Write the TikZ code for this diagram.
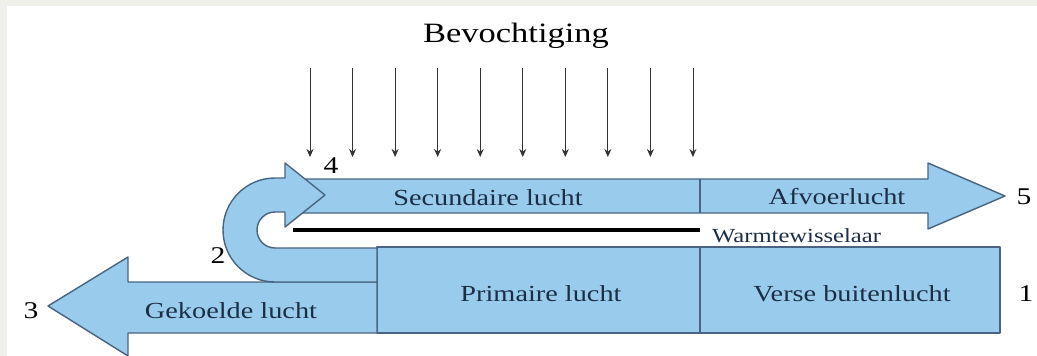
\documentclass[tikz,border=0pt]{standalone}
\usepackage{fontspec}
\setmainfont{Liberation Serif}
\usetikzlibrary{arrows.meta}
\definecolor{airblue}{RGB}{153,204,236}
\definecolor{airedge}{RGB}{72,100,128}
\definecolor{airtext}{RGB}{28,46,70}
\definecolor{framegray}{RGB}{240,240,235}
\newcommand{\wide}[1]{\scalebox{1.23}[1]{#1}}
\begin{document}
\begin{tikzpicture}[x=1pt,y=-1pt,
    flow/.style={fill=airblue,draw=airedge,line width=1.4pt,line join=round},
    part/.style={draw=airedge,line width=1.4pt},
    lbl/.style={inner sep=0pt,text=airtext,font=\fontsize{23}{26}\selectfont},
    num/.style={inner sep=0pt,font=\fontsize{24}{26}\selectfont},
    drop/.style={draw=black!80,line width=0.9pt,-{Stealth[length=8pt,width=7pt]}}]
  \useasboundingbox (0,0) rectangle (1037,356);
  \fill[framegray] (0,0) rectangle (1037,356);
  \fill[white] (7,6) rectangle (1037,356);
  % primary and fresh air
  \draw[flow] (377,247) rectangle (1000,333);
  \draw[part] (700,247) -- (700,333);
  % cooled air out
  \draw[flow] (377,282) -- (128,282) -- (128,257) -- (48,306)
    -- (128,356) -- (128,333) -- (377,333) -- cycle;
  % secondary and exhaust air
  \draw[flow] (290,179) -- (928,179) -- (928,163) -- (1005,196)
    -- (928,229) -- (928,213) -- (290,213) -- cycle;
  \draw[part] (700,179) -- (700,213);
  % turn from primary to secondary side
  \draw[flow] (377,282) -- (275,282) arc[start angle=90,end angle=270,radius=52]
    -- (285,178) -- (285,163) -- (325,195) -- (285,227) -- (285,212)
    -- (275,212) arc[start angle=270,end angle=90,radius=18]
    -- (377,248) -- cycle;
  % heat exchanger plate
  \coordinate (hx0) at (293,230);
  \coordinate (hx1) at (700,230);
  \draw[line width=4pt] (hx0) -- (hx1);
  % humidification
  \foreach \i in {0,...,9} {
    \coordinate (top\i) at (310+42.55*\i,68);
    \coordinate (bot\i) at (310+42.55*\i,157);
    \draw[drop] (top\i) -- (bot\i);
  }
  \node[inner sep=0pt,font=\fontsize{28}{30}\selectfont] (bev) at (516,36) {\wide{Bevochtiging}};
  \node[lbl] (sec) at (488,198) {\wide{Secundaire lucht}};
  \node[lbl] (afv) at (837,197) {\wide{Afvoerlucht}};
  \node[lbl,font=\fontsize{20}{22}\selectfont,anchor=west] (wtw) at (712,236) {\wide{Warmtewisselaar}};
  \node[lbl] (prim) at (541,294) {\wide{Primaire lucht}};
  \node[lbl] (verse) at (852,294) {\wide{Verse buitenlucht}};
  \node[lbl] (gek) at (231,311) {\wide{Gekoelde lucht}};
  \node[num] (n1) at (1026,294) {\wide{1}};
  \node[num] (n2) at (218,256) {\wide{2}};
  \node[num] (n3) at (31,311) {\wide{3}};
  \node[num] (n4) at (331,166) {\wide{4}};
  \node[num] (n5) at (1024,197) {\wide{5}};
\end{tikzpicture}
\end{document}
